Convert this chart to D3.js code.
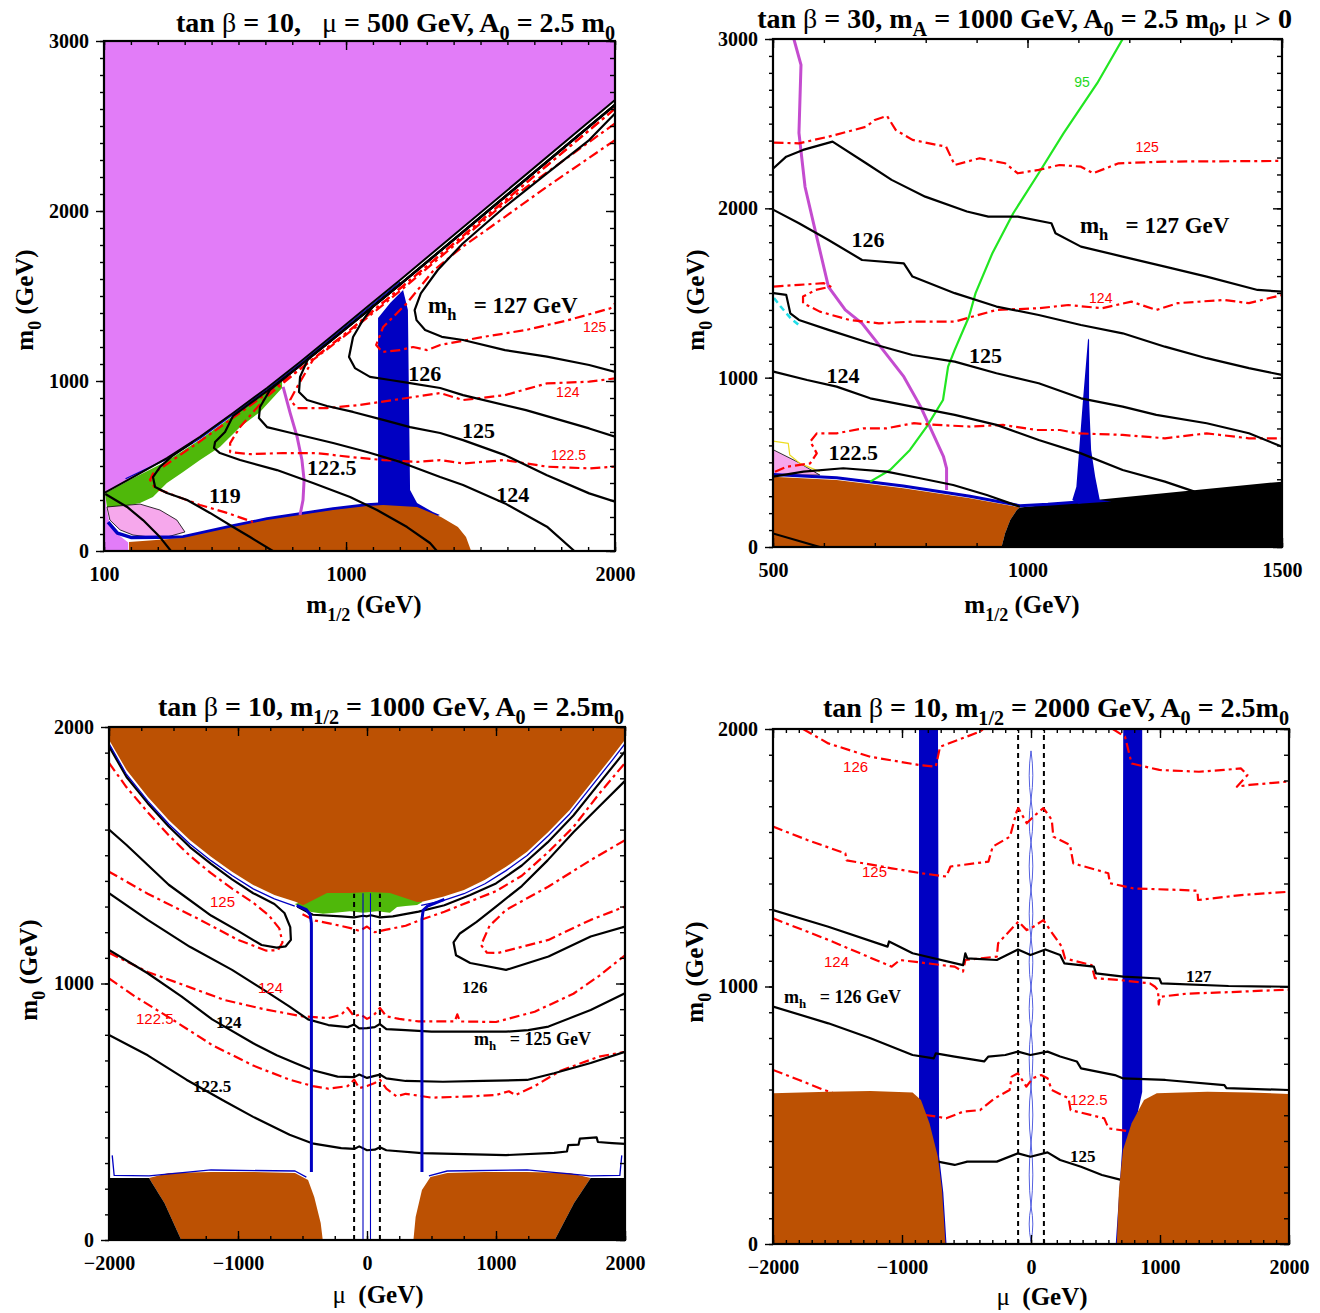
<!DOCTYPE html>
<html><head><meta charset="utf-8">
<script src="https://cdn.jsdelivr.net/npm/d3@7"></script>
<style>body{margin:0;background:#fff} svg{display:block}</style>
</head><body>
<svg id="chart" width="1320" height="1313"></svg>
<script>
// ---------- data: panel 1 (tan b = 10, mu = 500) ----------
const p1XTicks = [100, 1000, 2000];
const p1YTicks = [0, 1000, 2000, 3000];
const p1Edge = [[100,341],[208,435],[334,547],[457,671],[580,812],[706,959],[829,1112],[952,1271],[1078,1435],[1201,1594],[2000,2653]];
const p1VioletStrip = [[100,0],[190,0],[190,50],[150,100],[120,170],[108,259],[104,341],[100,341]];
const p1Green = [[104,338],[208,428],[334,530],[457,655],[580,795],[643,862],[762,998],[762,959],[680,818],[606,729],[531,612],[457,535],[394,465],[334,400],[282,318],[234,282],[160,259],[111,259]];
const p1Pink = [[111,259],[234,276],[308,241],[371,182],[401,112],[334,82],[271,82],[208,94],[160,124],[122,182]];
const p1Brown = [[193,0],[193,53],[394,76],[580,141],[706,182],[829,212],[952,241],[1078,265],[1138,271],[1264,259],[1353,200],[1416,141],[1446,82],[1465,0]];
const p1BlueStrip = [[1119,230],[1119,1371],[1164,1459],[1212,1535],[1230,1418],[1238,359],[1264,282],[1323,229],[1349,212],[1300,180]];
const p1BlueRim = [[115,170],[150,105],[200,80],[394,82],[580,147],[706,188],[829,218],[952,247],[1078,271],[1138,277]];
const p1BlueEdge = [[180,425],[334,540],[457,662],[580,803],[706,950],[829,1102],[952,1260],[1078,1423],[1201,1582]];
const p1Magenta = [[766,965],[792,812],[818,671],[836,535],[844,418],[840,300],[829,212]];
const p1BlackA = [[105,335],[186,259],[245,182],[308,82],[349,0]];
const p1Black119 = [[430,640],[353,558],[308,494],[282,435],[290,376],[334,341],[409,300],[494,224],[580,141],[643,82],[728,0]];
const p1Black1225 = [[2000,2625],[1201,1568],[1078,1410],[952,1248],[829,1090],[706,940],[580,795],[550,700],[513,641],[509,606],[531,576],[606,535],[743,476],[877,400],[1015,318],[1115,241],[1227,141],[1312,47],[1338,0]];
const p1Black124 = [[2000,2625],[1201,1568],[1078,1410],[952,1248],[829,1090],[717,947],[680,847],[676,782],[706,729],[781,700],[952,635],[1078,582],[1201,524],[1350,435],[1435,388],[1591,280],[1747,143],[1849,0]];
const p1Black125 = [[2000,2625],[1201,1568],[1078,1410],[952,1248],[859,1130],[829,1024],[825,935],[855,888],[929,853],[1026,818],[1138,771],[1238,729],[1350,694],[1435,652],[1591,564],[1747,446],[1904,339],[2000,290]];
const p1Black126 = [[2000,2625],[1201,1568],[1100,1438],[1063,1359],[1026,1259],[1011,1141],[1033,1076],[1089,1024],[1164,1006],[1238,988],[1350,959],[1435,917],[1669,829],[1904,721],[2000,672]];
const p1Black127 = [[2000,2574],[1904,2417],[1747,2221],[1591,2025],[1434,1809],[1341,1653],[1278,1515],[1255,1417],[1262,1358],[1294,1300],[1356,1260],[1435,1241],[1591,1182],[1747,1143],[1904,1094],[2000,1054]];
const p1Red119 = [[2000,2602],[1201,1545],[1015,1300],[829,1070],[643,855],[457,645],[282,455],[271,418],[290,371],[357,329],[457,271],[557,224],[654,171]];
const p1Red1225 = [[2000,2602],[1201,1545],[1015,1300],[829,1070],[700,900],[606,729],[569,635],[569,582],[643,570],[766,576],[892,576],[1015,553],[1138,535],[1264,524],[1350,535],[1435,515],[1591,535],[1747,496],[1904,486],[2000,496]];
const p1Red124 = [[2000,2515],[1600,2060],[1201,1530],[1015,1290],[877,1124],[818,965],[792,888],[818,841],[929,841],[1052,859],[1175,888],[1350,929],[1435,888],[1591,917],[1747,986],[1904,996],[2000,1015]];
const p1Red125 = [[2000,2417],[1747,2143],[1591,1966],[1434,1790],[1325,1650],[1227,1459],[1138,1318],[1112,1212],[1134,1171],[1201,1182],[1249,1200],[1301,1182],[1350,1212],[1513,1260],[1669,1300],[1826,1358],[1982,1427],[2000,1456]];

// ---------- data: panel 2 (tan b = 30, mA = 1000) ----------
const p2XTicks = [500, 1000, 1500];
const p2YTicks = [0, 1000, 2000, 3000];
const p2Brown = [[500,0],[500,415],[625,396],[756,347],[887,288],[985,234],[979,219],[966,159],[956,81],[949,0]];
const p2Black = [[985,234],[1500,386],[1500,0],[949,0],[956,81],[966,159],[979,219]];
const p2Pink = [[500,575],[547,504],[592,425],[500,425]];
const p2Yellow = [[500,625],[530,612],[533,543],[553,494],[592,445]];
const p2BlueRim = [[500,428],[625,409],[756,360],[887,300],[985,244],[1040,252],[1100,266],[1140,282]];
const p2BlueSpike = [[1088,278],[1096,356],[1100,514],[1105,711],[1109,868],[1119,1232],[1121,1223],[1121,868],[1125,573],[1133,415],[1142,278],[1165,268],[1100,255]];
const p2Cyan = [[502,1470],[515,1420],[535,1350],[555,1300]];
const p2Magenta = [[541,3000],[555,2847],[551,2445],[563,2126],[584,1855],[609,1536],[642,1400],[675,1321],[716,1164],[757,1006],[790,829],[808,711],[835,533],[841,465],[841,337]];
const p2Green95 = [[1187,3000],[1137,2739],[1071,2444],[1022,2207],[972,1971],[931,1735],[898,1499],[885,1360],[857,1164],[844,1065],[834,868],[802,711],[769,573],[730,455],[691,386]];
const p2Black127 = [[501,2237],[526,2305],[559,2345],[617,2394],[683,2266],[733,2168],[799,2069],[881,1981],[923,1951],[981,1951],[1047,1912],[1055,1853],[1105,1774],[1187,1715],[1270,1656],[1352,1597],[1452,1518],[1500,1508]];
const p2Black126 = [[501,1991],[551,1912],[609,1813],[675,1695],[757,1675],[774,1597],[857,1499],[939,1420],[1022,1370],[1105,1311],[1187,1262],[1270,1183],[1352,1115],[1435,1056],[1500,1016]];
const p2Black125 = [[501,1499],[526,1489],[534,1380],[551,1341],[609,1282],[691,1203],[774,1134],[857,1095],[939,1026],[1022,967],[1105,878],[1187,829],[1253,780],[1352,731],[1435,672],[1500,592]];
const p2Black124 = [[501,1036],[567,986],[625,947],[691,878],[774,829],[857,780],[939,721],[1022,632],[1105,553],[1187,455],[1270,386],[1328,327]];
const p2Black1225 = [[500,415],[560,445],[638,465],[723,445],[789,406],[854,366],[920,307],[985,238]];
const p2BlackLow = [[500,80],[592,0]];
const p2Red125 = [[501,2388],[551,2384],[609,2423],[683,2482],[700,2522],[724,2546],[741,2463],[774,2404],[840,2364],[857,2256],[906,2296],[956,2266],[981,2207],[1022,2227],[1063,2256],[1105,2246],[1129,2207],[1179,2266],[1270,2276],[1500,2280]];
const p2Red124 = [[501,1538],[551,1548],[600,1558],[613,1538],[584,1518],[559,1479],[559,1440],[592,1390],[650,1341],[708,1321],[774,1331],[857,1331],[939,1400],[1022,1410],[1080,1429],[1146,1410],[1204,1449],[1253,1400],[1295,1440],[1385,1459],[1435,1440],[1500,1488]];
const p2Red1225 = [[504,445],[527,474],[573,494],[586,553],[579,592],[573,622],[586,671],[625,671],[677,701],[723,701],[776,731],[822,721],[887,711],[952,721],[1018,691],[1064,691],[1097,671],[1187,662],[1270,642],[1352,671],[1435,642],[1500,642]];

// ---------- data: panel 3 (m1/2 = 1000) ----------
const p3XTicks = [-2000, -1000, 0, 1000, 2000];
const p3YTicks = [0, 1000, 2000];
const p3Cap = [[-2000,2000],[2000,2000],[2000,1950],[1899,1884],[1734,1780],[1571,1676],[1407,1592],[1241,1514],[1078,1455],[915,1404],[752,1365],[589,1338],[426,1319],[388,1318],[178,1353],[23,1357],[-132,1353],[-310,1353],[-496,1305],[-554,1319],[-718,1345],[-882,1384],[-1046,1436],[-1209,1494],[-1373,1559],[-1537,1637],[-1700,1728],[-1864,1832],[-2000,1950]];
const p3Green = [[-560,1310],[-519,1298],[-442,1280],[-341,1272],[-250,1276],[-132,1282],[-31,1276],[78,1282],[178,1276],[233,1298],[300,1302],[388,1306],[430,1318],[388,1340],[178,1360],[23,1362],[-132,1360],[-310,1360],[-496,1320]];
const p3BrownL = [[-1690,242],[-1537,261],[-1209,265],[-882,265],[-558,261],[-457,234],[-409,168],[-359,66],[-343,0],[-1440,0],[-1570,144]];
const p3BrownR = [[360,0],[377,90],[426,195],[492,246],[622,261],[915,265],[1241,265],[1571,261],[1734,242],[1605,144],[1455,0]];
const p3BlackL = [[-2000,242],[-1690,242],[-1570,144],[-1440,0],[-2000,0]];
const p3BlackR = [[2000,242],[1734,242],[1605,144],[1455,0],[2000,0]];
const p3BlueCapL = [[-2000,1935],[-1864,1815],[-1700,1712],[-1537,1622],[-1373,1544],[-1209,1479],[-1046,1421],[-882,1369],[-718,1330],[-560,1302]];
const p3BlueCapR = [[420,1305],[589,1323],[752,1350],[915,1389],[1078,1440],[1241,1499],[1407,1577],[1571,1661],[1734,1765],[1899,1869],[2000,1935]];
const p3BlueRimL = [[-1975,330],[-1960,252],[-1690,250],[-1209,273],[-558,269],[-470,245]];
const p3BlueRimR = [[480,250],[622,269],[1241,273],[1734,250],[1960,252],[1975,330]];
const p3BlueL = [[-545,1305],[-470,1288],[-440,1268],[-431,1235],[-431,265]];
const p3BlueR = [[600,1328],[470,1302],[435,1285],[426,1250],[426,265]];
const p3ThinBlue = [-31, 27];
const p3Dashed = [-100, 100];
const p3Black125Cap = [[-540,1300],[-420,1268],[-200,1262],[-100,1258],[-30,1264],[0,1262],[30,1266],[100,1258],[200,1262],[400,1280],[600,1305],[800,1345],[1000,1390],[1200,1460],[1400,1550],[1600,1655],[1800,1780],[2000,1905]];
const p3Red124Cap = [[-500,1270],[-400,1245],[-250,1230],[-120,1215],[-60,1205],[0,1222],[60,1200],[150,1210],[300,1225],[400,1245],[600,1280],[800,1320],[1000,1360],[1200,1420],[1400,1510],[1600,1610],[1800,1740],[2000,1860]];
const p3Black126R = [[2000,1790],[1800,1690],[1600,1590],[1400,1480],[1200,1380],[1000,1300],[850,1240],[720,1195],[671,1160],[690,1110],[800,1080],[1078,1053],[1407,1105],[1734,1183],[2000,1222]];
const p3Red125R = [[2000,1559],[1734,1481],[1407,1378],[1078,1287],[950,1225],[884,1150],[930,1120],[1016,1119],[1407,1170],[1734,1248],[2000,1300]];
const p3Black126L = [[-2000,1925],[-1864,1805],[-1700,1703],[-1537,1612],[-1373,1532],[-1209,1466],[-1046,1406],[-882,1352],[-718,1310],[-640,1275],[-595,1220],[-590,1170],[-630,1145],[-700,1140],[-817,1150],[-1000,1205],[-1209,1265],[-1537,1385],[-1864,1540],[-2000,1600]];
const p3Red125L = [[-2000,1860],[-1864,1765],[-1700,1668],[-1537,1578],[-1373,1498],[-1209,1430],[-1046,1370],[-882,1315],[-760,1265],[-680,1215],[-655,1160],[-690,1130],[-780,1128],[-1000,1170],[-1300,1250],[-1700,1350],[-2000,1436]];
const p3Black125 = [[-2000,1352],[-1700,1248],[-1373,1143],[-1046,1053],[-800,975],[-600,910],[-457,860],[-300,838],[-150,830],[-100,840],[-60,825],[0,826],[60,830],[100,842],[150,822],[264,819],[500,812],[752,812],[1078,812],[1250,818],[1407,832],[1600,870],[1734,897],[2000,962]];
const p3Black124 = [[-2000,1131],[-1700,1040],[-1439,950],[-1200,860],[-882,767],[-700,720],[-558,690],[-426,663],[-228,637],[-100,635],[-60,645],[0,632],[60,640],[100,645],[150,630],[300,620],[589,617],[900,620],[1241,624],[1450,650],[1734,690],[2000,734]];
const p3Black1225 = [[-2000,799],[-1700,720],[-1400,625],[-1100,540],[-882,480],[-600,410],[-426,377],[-200,358],[-100,355],[-60,365],[0,350],[60,352],[100,362],[150,350],[426,339],[1078,331],[1450,340],[1550,345],[1560,370],[1640,372],[1650,395],[1780,400],[1790,382],[1900,378],[2000,375]];
const p3Red124 = [[-2000,1120],[-1700,1045],[-1400,990],[-1100,935],[-800,900],[-500,872],[-300,865],[-200,878],[-150,905],[-100,872],[-50,880],[0,862],[50,875],[100,905],[150,872],[250,862],[400,852],[680,852],[700,880],[720,852],[1000,850],[1300,890],[1600,960],[1800,1030],[2000,1110]];
const p3Red1225 = [[-2000,1020],[-1800,950],[-1504,858],[-1200,760],[-882,680],[-600,625],[-420,600],[-300,590],[-150,600],[-100,625],[-60,592],[0,600],[60,612],[100,625],[150,590],[230,560],[300,570],[500,555],[800,560],[1000,565],[1100,580],[1150,565],[1300,600],[1500,660],[1800,715],[2000,734]];

// ---------- data: panel 4 (m1/2 = 2000) ----------
const p4XTicks = [-2000, -1000, 0, 1000, 2000];
const p4YTicks = [0, 1000, 2000];
const p4BrownL = [[-2000,585],[-1571,591],[-1244,594],[-918,588],[-853,559],[-787,469],[-722,339],[-690,210],[-663,0],[-2000,0]];
const p4BrownR = [[665,0],[682,210],[713,365],[780,469],[876,559],[975,585],[1368,591],[1694,588],[2000,583],[2000,0]];
const p4BlueL = [[-868,2000],[-721,2000],[-712,340],[-680,200],[-655,0],[-700,0],[-780,400],[-868,560]];
const p4BlueR = [[715,2000],[862,2000],[862,590],[780,400],[700,0],[657,0],[684,200],[706,365]];
const p4ChainY = [1915, 1725, 1560, 1375, 1190, 998, 831, 610, 392, 145, 10];
const p4Dashed = [-100, 100];
const p4Black127 = [[-2000,1297],[-1571,1232],[-1112,1155],[-1100,1175],[-918,1129],[-527,1083],[-509,1129],[-494,1109],[-265,1103],[-101,1144],[-4,1122],[111,1144],[226,1122],[258,1090],[487,1077],[504,1051],[715,1038],[995,1031],[1011,1012],[1531,1002],[2000,999]];
const p4Black126 = [[-2000,922],[-1571,857],[-1244,799],[-918,734],[-754,721],[-738,740],[-592,728],[-363,709],[-330,728],[-199,734],[-101,747],[-4,734],[128,747],[226,728],[355,709],[388,682],[650,656],[715,643],[1041,637],[1499,617],[1515,605],[2000,598]];
const p4Black125 = [[-722,320],[-592,307],[-494,320],[-265,320],[-101,352],[-4,339],[128,356],[226,326],[388,300],[550,268],[698,249]];
const p4Red126a = [[-1767,2000],[-1571,1944],[-1244,1892],[-868,1860],[-738,1854],[-705,1931],[-395,1990],[-370,2000]];
const p4Red126b = [[634,2000],[729,1970],[780,1866],[995,1841],[1302,1834],[1497,1841],[1628,1847],[1678,1821],[1596,1776],[1694,1783],[2000,1796]];
const p4Red125 = [[-2000,1621],[-1734,1569],[-1439,1517],[-1430,1490],[-1080,1459],[-853,1440],[-657,1427],[-624,1466],[-330,1485],[-297,1543],[-163,1582],[-111,1680],[-98,1693],[-33,1634],[19,1660],[96,1693],[161,1647],[173,1582],[302,1550],[328,1478],[599,1440],[612,1401],[793,1381],[1155,1375],[1290,1372],[1295,1336],[1628,1355],[2000,1368]];
const p4Red124 = [[-2000,1265],[-1571,1181],[-1080,1077],[-1016,1103],[-592,1077],[-527,1058],[-509,1103],[-265,1116],[-255,1168],[-98,1252],[-33,1219],[19,1232],[96,1258],[148,1219],[238,1155],[264,1109],[470,1083],[496,1032],[690,1025],[922,1012],[961,999],[985,985],[990,930],[1000,960],[1200,972],[1531,978],[2000,988]];
const p4Red1225a = [[-2000,676],[-1798,637],[-1603,598],[-1540,588]];
const p4Red1225b = [[-819,501],[-722,494],[-657,488],[-526,514],[-395,520],[-281,566],[-166,598],[-150,650],[-101,663],[-36,611],[13,644],[78,656],[128,644],[161,598],[291,566],[307,520],[568,488],[601,449],[780,436]];

// ---------- text ----------
const p1Title = ["tan ", ["β","gr"], " = 10,   ", ["μ","gr"], " = 500 GeV, A", ["0","sub"], " = 2.5 m", ["0","sub"]];
const p2Title = ["tan ", ["β","gr"], " = 30, m", ["A","sub"], " = 1000 GeV, A", ["0","sub"], " = 2.5 m", ["0","sub"], ", ", ["μ","gr"], " > 0"];
const p3Title = ["tan ", ["β","gr"], " = 10, m", ["1/2","sub"], " = 1000 GeV, A", ["0","sub"], " = 2.5m", ["0","sub"]];
const p4Title = ["tan ", ["β","gr"], " = 10, m", ["1/2","sub"], " = 2000 GeV, A", ["0","sub"], " = 2.5m", ["0","sub"]];
const yTitle = ["m", ["0","sub"], " (GeV)"];
const xTitleM = ["m", ["1/2","sub"], " (GeV)"];
const xTitleMu = [["μ","gr"], "  (GeV)"];

const SERIF = "'Liberation Serif', 'Times New Roman', serif";
const SANS = "'Liberation Sans', Arial, sans-serif";
const VIOLET = "#e27cf8", PINK = "#f6a8ec", GREEN = "#4fb80a", BROWN = "#bc5103";
const BLUE = "#0000c2", MAGENTA = "#c44ccf", LIME = "#22e622", RED = "#ff0000";
const RDASH = "10,4,3,4";

const svg = d3.select("#chart");

function richText(g, px, py, parts, o) {
  const size = o.size;
  const t = g.append("text").attr("x", px).attr("y", py)
    .attr("font-family", o.family || SERIF).attr("font-weight", o.weight || "bold")
    .attr("font-size", size).attr("fill", o.fill || "#000")
    .attr("text-anchor", o.anchor || "start").style("white-space", "pre");
  if (o.rotate) t.attr("transform", `rotate(-90 ${px} ${py})`);
  let shift = 0;
  parts.forEach(part => {
    const [str, kind] = Array.isArray(part) ? part : [part, ""];
    const s = t.append("tspan").text(str);
    const want = kind === "sub" ? size * 0.3 : 0;
    if (want !== shift) s.attr("dy", want - shift);
    shift = want;
    if (kind === "sub") s.attr("font-size", size * 0.72);
    if (kind === "gr") s.attr("font-weight", "normal");
  });
  return t;
}

function makePanel(o) {
  const [x0, x1, y0, y1] = o.box;
  const x = d3.scaleLinear().domain(o.xDom).range([x0, x1]);
  const y = d3.scaleLinear().domain(o.yDom).range([y1, y0]);
  svg.append("clipPath").attr("id", "clip" + o.id)
    .append("rect").attr("x", x0).attr("y", y0).attr("width", x1 - x0).attr("height", y1 - y0);
  const plot = svg.append("g").attr("clip-path", `url(#clip${o.id})`);
  const line = d3.line().x(d => x(d[0])).y(d => y(d[1]));
  return {
    x, y, o, plot,
    area(pts, fill, stroke, sw) {
      plot.append("path").attr("d", line(pts) + "Z").attr("fill", fill)
        .attr("stroke", stroke || "none").attr("stroke-width", sw || 0);
    },
    curve(pts, stroke, w, dash) {
      plot.append("path").attr("d", line(pts)).attr("fill", "none")
        .attr("stroke", stroke).attr("stroke-width", w)
        .attr("stroke-linejoin", "round").attr("stroke-dasharray", dash || null);
    },
    vline(xv, ya, yb, stroke, w, dash) {
      plot.append("line").attr("x1", x(xv)).attr("x2", x(xv)).attr("y1", y(ya)).attr("y2", y(yb))
        .attr("stroke", stroke).attr("stroke-width", w).attr("stroke-dasharray", dash || null);
    },
    label(pt, parts, size) { richText(svg, x(pt[0]), y(pt[1]), parts, { size }); },
    red(pt, str, size) { richText(svg, x(pt[0]), y(pt[1]), [str], { size: size || 14, family: SANS, weight: "normal", fill: RED }); }
  };
}

function frame(p) {
  const { x, y, o } = p;
  const [x0, x1, y0, y1] = o.box;
  const g = svg.append("g");
  const minorX = d3.range(o.xDom[0], o.xDom[1] + 1, o.xStep);
  const minorY = d3.range(o.yDom[0], o.yDom[1] + 1, o.yStep);
  const fmt = d3.format("d");
  const put = (axis, tx, ty) => g.append("g").attr("transform", `translate(${tx},${ty})`)
    .call(axis).call(s => s.select(".domain").remove());
  put(d3.axisBottom(x).tickValues(minorX).tickSize(-4).tickFormat(""), 0, y1);
  put(d3.axisTop(x).tickValues(minorX).tickSize(-4).tickFormat(""), 0, y0);
  put(d3.axisLeft(y).tickValues(minorY).tickSize(4).tickFormat(""), x0, 0);
  put(d3.axisRight(y).tickValues(minorY).tickSize(-5).tickFormat(""), x1, 0);
  put(d3.axisBottom(x).tickValues(o.xTicks).tickSize(-9).tickPadding(16).tickFormat(fmt), 0, y1);
  put(d3.axisTop(x).tickValues(o.xTicks).tickSize(-9).tickFormat(""), 0, y0);
  put(d3.axisLeft(y).tickValues(o.yTicks).tickSize(8).tickPadding(7).tickFormat(fmt), x0, 0);
  put(d3.axisRight(y).tickValues(o.yTicks).tickSize(-9).tickFormat(""), x1, 0);
  g.selectAll(".tick line").attr("stroke", "#000").attr("stroke-width", 1.4);
  g.selectAll("text").attr("font-family", SERIF).attr("font-weight", "bold")
    .attr("font-size", 20).attr("fill", "#000");
  g.append("rect").attr("x", x0).attr("y", y0).attr("width", x1 - x0).attr("height", y1 - y0)
    .attr("fill", "none").attr("stroke", "#000").attr("stroke-width", 2.2);
  richText(svg, o.titlePos[0], o.titlePos[1], o.title, { size: 28, anchor: "end" });
  richText(svg, o.xtPos[0], o.xtPos[1], o.xTitle, { size: 25, anchor: "middle" });
  richText(svg, o.ytPos[0], o.ytPos[1], yTitle, { size: 25, anchor: "middle", rotate: true });
}

// ---------- panel 1 ----------
{
  const p = makePanel({ id: 1, box: [104, 615, 41, 551], xDom: [100, 2000], yDom: [0, 3000],
    xTicks: p1XTicks, yTicks: p1YTicks, xStep: 100, yStep: 100,
    title: p1Title, titlePos: [615, 32], xTitle: xTitleM, xtPos: [364, 613], ytPos: [33, 300] });
  p.area([[100, 3000], [2000, 3000]].concat(p1Edge.slice().reverse()), VIOLET);
  p.area(p1VioletStrip, VIOLET);
  p.area(p1Green, GREEN);
  p.area(p1Pink, PINK, "#000", 0.8);
  p.curve(p1BlueRim, BLUE, 3.5);
  p.area(p1BlueStrip, BLUE);
  p.area(p1Brown, BROWN);
  p.curve(p1BlueEdge, BLUE, 1.3);
  p.curve(p1Magenta, MAGENTA, 3);
  [p1Red119, p1Red1225, p1Red124, p1Red125].forEach(c => p.curve(c, RED, 2.2, RDASH));
  [p1BlackA, p1Black119, p1Black1225, p1Black124, p1Black125, p1Black126, p1Black127]
    .forEach(c => p.curve(c, "#000", 2.2));
  p.curve(p1Edge, "#000", 2);
  frame(p);
  p.label([1305, 1400], ["m", ["h", "sub"], "   = 127 GeV"], 23);
  p.label([1231, 1000], ["126"], 22);
  p.label([1431, 665], ["125"], 22);
  p.label([1558, 288], ["124"], 22);
  p.label([855, 447], ["122.5"], 22);
  p.label([490, 282], ["119"], 22);
  p.red([1881, 1288], "125");
  p.red([1781, 906], "124");
  p.red([1762, 535], "122.5");
}

// ---------- panel 2 ----------
{
  const p = makePanel({ id: 2, box: [773, 1282, 39, 547], xDom: [500, 1500], yDom: [0, 3000],
    xTicks: p2XTicks, yTicks: p2YTicks, xStep: 100, yStep: 100,
    title: p2Title, titlePos: [1292, 28], xTitle: xTitleM, xtPos: [1022, 613], ytPos: [704, 300] });
  p.area(p2Brown, BROWN);
  p.area(p2Black, "#000");
  p.area(p2Pink, PINK, "#000", 0.8);
  p.curve(p2BlueRim, BLUE, 3);
  p.area(p2BlueSpike, BLUE);
  p.curve(p2Yellow, "#eedd22", 1.2);
  p.curve(p2Cyan, "#22dde8", 2.5, "6,4");
  p.curve(p2Magenta, MAGENTA, 3);
  p.curve(p2Green95, LIME, 2.2);
  [p2Red125, p2Red124, p2Red1225].forEach(c => p.curve(c, RED, 2.2, RDASH));
  [p2Black127, p2Black126, p2Black125, p2Black124, p2Black1225, p2BlackLow]
    .forEach(c => p.curve(c, "#000", 2.2));
  frame(p);
  p.label([1103, 1855], ["m", ["h", "sub"], "   = 127 GeV"], 23);
  p.label([654, 1774], ["126"], 22);
  p.label([885, 1085], ["125"], 22);
  p.label([605, 967], ["124"], 22);
  p.label([609, 514], ["122.5"], 22);
  p.red([1212, 2335], "125");
  p.red([1121, 1440], "124");
  richText(svg, p.x(1092), p.y(2719), ["95"], { size: 14, family: SANS, weight: "normal", fill: "#1ed81e" });
}

// ---------- panel 3 ----------
{
  const p = makePanel({ id: 3, box: [109, 625, 727, 1240], xDom: [-2000, 2000], yDom: [0, 2000],
    xTicks: p3XTicks, yTicks: p3YTicks, xStep: 250, yStep: 100,
    title: p3Title, titlePos: [624, 716], xTitle: xTitleMu, xtPos: [378, 1303], ytPos: [37, 970] });
  [p3Red124Cap, p3Red125R, p3Red125L, p3Red124, p3Red1225].forEach(c => p.curve(c, RED, 2.2, RDASH));
  [p3Black125Cap, p3Black126R, p3Black126L, p3Black125, p3Black124, p3Black1225]
    .forEach(c => p.curve(c, "#000", 2.2));
  p.area(p3Green, GREEN);
  p.area(p3Cap, BROWN);
  p.area(p3BrownL, BROWN);
  p.area(p3BrownR, BROWN);
  p.area(p3BlackL, "#000");
  p.area(p3BlackR, "#000");
  p.curve(p3BlueCapL, BLUE, 1.3);
  p.curve(p3BlueCapR, BLUE, 1.3);
  p.curve(p3BlueRimL, BLUE, 1.3);
  p.curve(p3BlueRimR, BLUE, 1.3);
  p.curve(p3BlueL, BLUE, 3);
  p.curve(p3BlueR, BLUE, 3);
  p3ThinBlue.forEach(v => p.vline(v, 0, 1352, BLUE, 1.1));
  p3Dashed.forEach(v => p.vline(v, 0, 1350, "#000", 2, "5,4"));
  frame(p);
  p.label([736, 963], ["126"], 17);
  p.label([829, 760], ["m", ["h", "sub"], "   = 125 GeV"], 18);
  p.label([-1171, 827], ["124"], 17);
  p.label([-1349, 577], ["122.5"], 17);
  p.red([-1217, 1298], "125", 15);
  p.red([-845, 963], "124", 15);
  p.red([-1791, 842], "122.5", 15);
}

// ---------- panel 4 ----------
{
  const p = makePanel({ id: 4, box: [773, 1289, 729, 1244], xDom: [-2000, 2000], yDom: [0, 2000],
    xTicks: p4XTicks, yTicks: p4YTicks, xStep: 100, yStep: 100,
    title: p4Title, titlePos: [1289, 717], xTitle: xTitleMu, xtPos: [1042, 1305], ytPos: [703, 972] });
  p.area(p4BlueL, BLUE);
  p.area(p4BlueR, BLUE);
  const { x, y } = p;
  for (let i = 0; i < p4ChainY.length - 1; i++) {
    const a = y(p4ChainY[i]), b = y(p4ChainY[i + 1]), m = (a + b) / 2;
    p.plot.append("path")
      .attr("d", `M${x(0)},${a}Q${x(28)},${m} ${x(0)},${b}Q${x(-28)},${m} ${x(0)},${a}`)
      .attr("fill", "none").attr("stroke", "#2a3ad8").attr("stroke-width", 1).attr("opacity", 0.8);
  }
  p4Dashed.forEach(v => p.vline(v, 0, 2000, "#000", 2, "5,4"));
  [p4Red126a, p4Red126b, p4Red125, p4Red124, p4Red1225a, p4Red1225b].forEach(c => p.curve(c, RED, 2.2, RDASH));
  [p4Black127, p4Black126, p4Black125].forEach(c => p.curve(c, "#000", 2.2));
  p.area(p4BrownL, BROWN);
  p.area(p4BrownR, BROWN);
  frame(p);
  p.label([-1915, 936], ["m", ["h", "sub"], "   = 126 GeV"], 18);
  p.label([1202, 1017], ["127"], 17);
  p.label([302, 318], ["125"], 17);
  p.red([-1457, 1833], "126", 15);
  p.red([-1310, 1425], "125", 15);
  p.red([-1605, 1076], "124", 15);
  p.red([302, 540], "122.5", 15);
}
</script>
</body></html>
